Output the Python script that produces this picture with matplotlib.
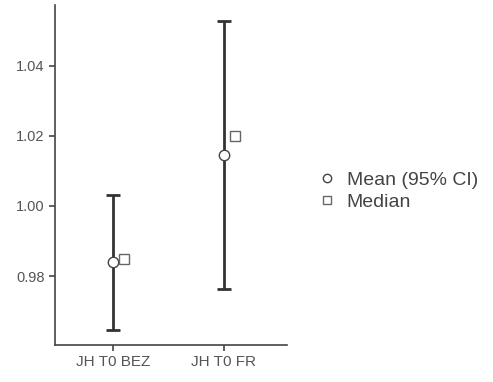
import matplotlib
matplotlib.use('Agg')
import matplotlib.pyplot as plt
from matplotlib.lines import Line2D

plt.rcParams['font.family'] = ['Liberation Sans', 'DejaVu Sans']

# data
groups = ['JH T0 BEZ', 'JH T0 FR']
means = [0.984, 1.0146]
ci_low = [0.9646, 0.9763]
ci_high = [1.0031, 1.0529]
medians = [0.9849, 1.020]

fig = plt.figure(figsize=(4.93, 3.82), dpi=100)
ax = fig.add_axes([55/493, 1 - 345/382, 232/493, 340/382])

xs = list(range(len(groups)))
err = [[m - l for m, l in zip(means, ci_low)], [h - m for m, h in zip(means, ci_high)]]
ax.errorbar(xs, means, yerr=err, fmt='none', ecolor='#333333', elinewidth=2,
            capsize=5, capthick=2, zorder=2)
ax.plot(xs, means, 'o', ms=7.5, mfc='white', mec='#444444', mew=1, zorder=3)
ax.plot([x + 0.1 for x in xs], medians, 's', ms=6.5, mfc='white', mec='#666666', mew=1, zorder=3)

ax.set_xlim(-0.52, 1.57)
ax.set_ylim(0.9603, 1.0574)
ax.set_xticks(xs)
ax.set_xticklabels(groups, fontsize=11)
ax.set_yticks([0.98, 1.00, 1.02, 1.04])
ax.set_yticklabels(['0.98', '1.00', '1.02', '1.04'], fontsize=10.5)

for s in ['top', 'right']:
    ax.spines[s].set_visible(False)
for s in ['left', 'bottom']:
    ax.spines[s].set_color('#444444')
    ax.spines[s].set_linewidth(1.2)
ax.tick_params(colors='#444444', labelcolor='#555555', length=4, width=1.2)

handles = [
    Line2D([], [], ls='none', marker='o', ms=6, mfc='white', mec='#444444'),
    Line2D([], [], ls='none', marker='s', ms=5.5, mfc='white', mec='#666666'),
]
fig.legend(handles, ['Mean (95% CI)', 'Median'], loc='center left',
           bbox_to_anchor=(300/493, 1 - 191/382), frameon=False, fontsize=14,
           handletextpad=0.5, labelspacing=0.2, handlelength=1.0,
           labelcolor='#444444')

fig.savefig('out.png', dpi=100)
